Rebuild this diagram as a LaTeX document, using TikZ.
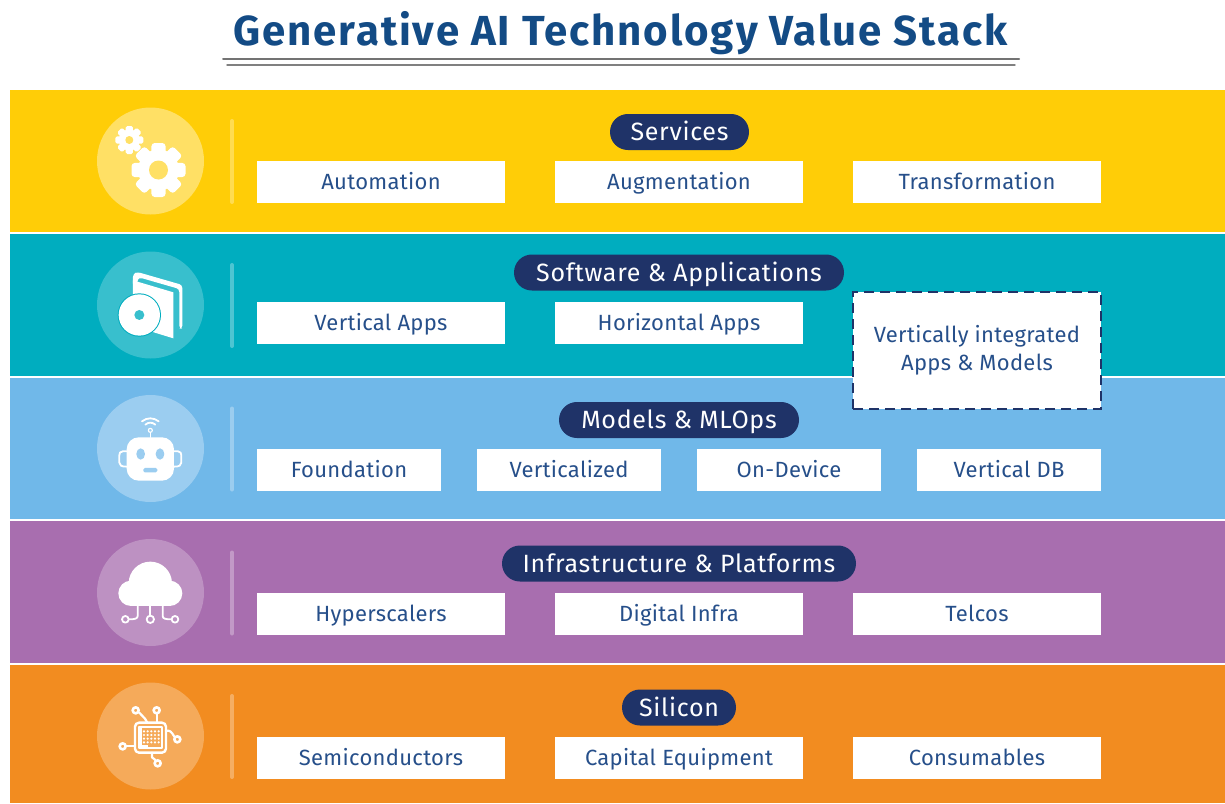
\documentclass[tikz,border=0pt]{standalone}
\usepackage{fontspec}
\setmainfont{Fira Sans}
\newfontfamily\labelfont[LetterSpace=1.4]{Fira Sans}
\newfontfamily\pillfont[LetterSpace=2.8]{Fira Sans}
\newfontfamily\titlefont[LetterSpace=4.6]{Fira Sans Bold}
\definecolor{bandyellow}{HTML}{FFCD07}
\definecolor{bandteal}{HTML}{00ADBF}
\definecolor{bandblue}{HTML}{70B8E9}
\definecolor{bandpurple}{HTML}{A86EAF}
\definecolor{bandorange}{HTML}{F28C20}
\definecolor{navy}{HTML}{1F3368}
\definecolor{titleblue}{HTML}{134B85}
\definecolor{textblue}{HTML}{264F8A}
\tikzset{
  band/.style={draw=none,minimum width=1215pt,minimum height=142pt,inner sep=0pt},
  pill/.style={fill=navy,text=white,rounded corners=17.9pt,minimum height=36pt,inner sep=0pt,text height=17pt,text depth=0pt,font=\pillfont\fontsize{25}{25}\selectfont},
  itembox/.style={fill=white,text=textblue,minimum height=42pt,inner sep=0pt,text height=15pt,text depth=0pt,font=\labelfont\fontsize{22}{22}\selectfont},
  badge/.style={circle,minimum size=107pt,inner sep=0pt},
  divider/.style={line width=4pt,line cap=round,white,opacity=.3},
  iconline/.style={white,line width=1.8pt,line cap=round,line join=round},
}
\newcommand{\gearicon}[5]{% x, y, outer, body, hole
  \foreach \a in {0,45,...,315}
    \fill[white,rounded corners=.12*#3,shift={(#1,#2)},rotate=\a] (.5*#4,-.26*#3) rectangle (#3,.26*#3);
  \fill[white] (#1,#2) circle[radius=#4];
  \fill[yellowbadge] (#1,#2) circle[radius=#5];
}
\colorlet{yellowbadge}{bandyellow!62!white}
\colorlet{tealbadge}{bandteal!78!white}
\colorlet{bluebadge}{bandblue!70!white}
\colorlet{purplebadge}{bandpurple!76!white}
\colorlet{orangebadge}{bandorange!74!white}
\begin{document}
\begin{tikzpicture}[x=1pt,y=-1pt]
\useasboundingbox (0,0) rectangle (1225,803);
% title
\node[text=titleblue,font=\titlefont\fontsize{42}{42}\selectfont,inner sep=0pt] (Title) at (620.5,33) {Generative AI Technology Value Stack};
\coordinate (RuleA) at (223,59); \coordinate (RuleB) at (1019,59);
\coordinate (RuleC) at (227,65); \coordinate (RuleD) at (1015,65);
\draw[gray!90!black,line width=2pt,line cap=round] (RuleA) -- (RuleB);
\draw[gray,line width=1.4pt,line cap=round] (RuleC) -- (RuleD);

% the bands, badges and dividers
\foreach \name/\col/\y/\h in {services/bandyellow/161/142,software/bandteal/305/142,models/bandblue/448.5/141,infra/bandpurple/592/142,silicon/bandorange/734/138}{
  \node[band,fill=\col,minimum height=\h pt] (\name) at (617.5,\y) {};
}
\node[badge,fill=yellowbadge] (BadgeA) at (150.5,161) {};
\node[badge,fill=tealbadge] (BadgeB) at (150.5,305) {};
\node[badge,fill=bluebadge] (BadgeC) at (150.5,448.5) {};
\node[badge,fill=purplebadge] (BadgeD) at (150.5,592.5) {};
\node[badge,fill=orangebadge] (BadgeE) at (150.5,736) {};
\foreach \y in {119,263,406.5,550.5,694}
  \draw[divider] (232,\y+2) -- (232,\y+83);

% gears
\gearicon{158.5}{170}{27}{20.5}{9.5}
\gearicon{129.3}{140}{14}{10.5}{4}

% book and disc
\begin{scope}[shift={(80,90)},scale=.3333]
\fill[white,rounded corners=3pt] (159,590) -- (159,552) -- (172,546) -- (307,585) -- (307,716) -- (298,716) -- (298,597) -- (180,563) -- (172,567) -- (172,590) -- cycle;
\fill[white] (159,571) -- (280,607) -- (280,745) -- (159,708) -- cycle;
\fill[bandteal] (178,675) circle[radius=65];
\fill[white] (178,675) circle[radius=62];
\fill[tealbadge] (178,675) circle[radius=15];
\end{scope}

% robot
\begin{scope}[shift={(80,380)},scale=.3333]
\fill[white,rounded corners=12pt] (140,172) rectangle (282,302);
\fill[bluebadge] (182,222) ellipse[x radius=13,y radius=17];
\fill[bluebadge] (240,222) ellipse[x radius=13,y radius=17];
\fill[bluebadge,rounded corners=1.5pt] (190,264) rectangle (232,277);
\draw[iconline] (140,214) -- (128,214) .. controls (120,214) and (118,220) .. (118,226) -- (118,248) .. controls (118,256) and (124,260) .. (140,260);
\draw[iconline] (282,214) -- (294,214) .. controls (302,214) and (304,220) .. (304,226) -- (304,248) .. controls (304,256) and (298,260) .. (282,260);
\draw[iconline,line width=1.2pt] (211,172) -- (211,157);
\draw[iconline,line width=1.2pt] (211,151) circle[radius=6];
\draw[iconline] (196,134) .. controls (205,126) and (217,126) .. (226,134);
\draw[iconline] (186,124) .. controls (201,112) and (221,112) .. (236,124);
\end{scope}

% cloud
\begin{scope}[shift={(80,380)},scale=.3333]
\fill[white] (211,610) circle[radius=65];
\fill[white] (153,640) circle[radius=38];
\fill[white] (269,640) circle[radius=38];
\fill[white] (153,620) rectangle (269,678);
\draw[iconline] (211,678) -- (211,707);
\draw[iconline] (211,718) circle[radius=11];
\draw[iconline] (173,678) -- (173,708) .. controls (173,716) and (165,718) .. (147,718);
\draw[iconline] (136,718) circle[radius=10];
\draw[iconline] (248,678) -- (248,708) .. controls (248,716) and (256,718) .. (274,718);
\draw[iconline] (285,718) circle[radius=10];
\end{scope}

% chip
\begin{scope}[shift={(80,670)},scale=.3333]
\draw[iconline,line width=2.4pt,rounded corners=4pt] (165,158) rectangle (258,248);
\draw[iconline] (178,172) rectangle (245,235);
\foreach \x in {192,203,214,225,236} \foreach \y in {184,195,206,217}
  \fill[white] (\x,\y) circle[radius=3.6];
\fill[white] (178,226) rectangle (205,235);
\fill[white] (178,172) rectangle (187,235);
\foreach \x/\y in {167/121,230/121,292/208,128/229,233/280}
  \draw[iconline,line width=2.6pt] (\x,\y) circle[radius=9];
\draw[iconline,line width=2.2pt] (177,127) -- (195,146) -- (202,158);
\draw[iconline,line width=2.2pt] (230,131) -- (230,158);
\draw[iconline,line width=2.2pt] (258,182) .. controls (270,180) and (275,186) .. (283,200);
\draw[iconline,line width=2.2pt] (138,229) -- (165,229);
\draw[iconline,line width=2.2pt] (216,248) -- (216,262) -- (226,270);
\end{scope}

% labels of the layers
\node[pill,minimum width=139pt] (PillServices) at (679.5,132) {Services};
\node[pill,minimum width=330pt] (PillSoftware) at (679,272.5) {Software \& Applications};
\node[pill,minimum width=240pt] (PillModels) at (679,420) {Models \& MLOps};
\node[pill,minimum width=354pt] (PillInfra) at (679,563.5) {Infrastructure \& Platforms};
\node[pill,minimum width=114pt] (PillSilicon) at (679,707.5) {Silicon};

% three box rows
\foreach \y/\a/\b/\c in {182/Automation/Augmentation/Transformation,614/Hyperscalers/Digital Infra/Telcos,758/Semiconductors/Capital Equipment/Consumables}{
  \node[itembox,minimum width=248pt] at (381,\y) {\a};
  \node[itembox,minimum width=248pt] at (679,\y) {\b};
  \node[itembox,minimum width=248pt] at (977,\y) {\c};
}
\node[itembox,minimum width=248pt] (VerticalApps) at (381,323) {Vertical Apps};
\node[itembox,minimum width=248pt] (HorizontalApps) at (679,323) {Horizontal Apps};
\node[itembox,minimum width=184pt] (Foundation) at (349,470) {Foundation};
\node[itembox,minimum width=184pt] (Verticalized) at (569,470) {Verticalized};
\node[itembox,minimum width=184pt] (OnDevice) at (789,470) {On-Device};
\node[itembox,minimum width=184pt] (VerticalDB) at (1009,470) {Vertical DB};
\node[itembox,text height={},text depth={},draw=navy,line width=1.8pt,dash pattern=on 10pt off 6pt,minimum width=248pt,minimum height=117pt,align=center] (Integrated) at (977,350.5) {Vertically integrated\\[5.5pt]Apps \& Models};
\end{tikzpicture}
\end{document}
